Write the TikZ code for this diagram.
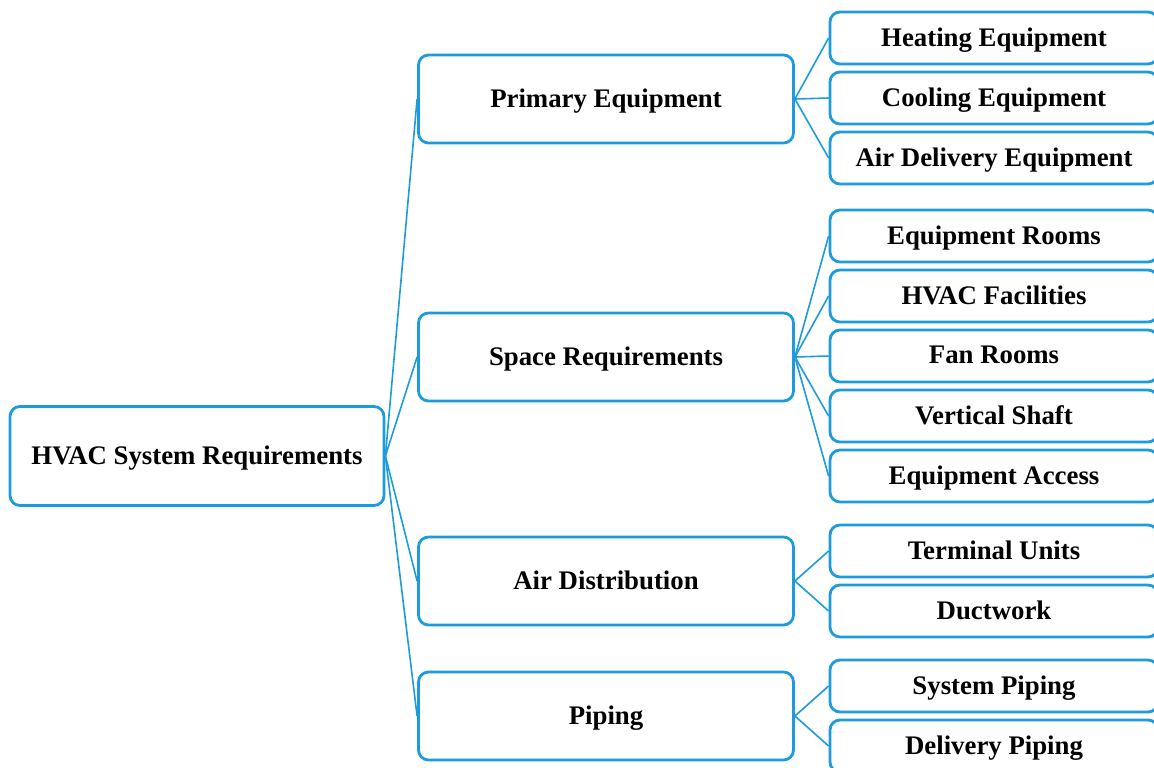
\documentclass[tikz,border=0pt]{standalone}
\usepackage{fontspec}
\setmainfont{Liberation Serif}
\usetikzlibrary{positioning}
\definecolor{hvacblue}{RGB}{30,155,220}
\tikzset{
  box/.style={draw=hvacblue, line width=1.4pt, rounded corners=5pt, fill=white, font=\bfseries\fontsize{13.4}{15}\selectfont, align=center, inner sep=0pt, text depth=1pt},
  rootbox/.style={box, minimum width=187pt, minimum height=49.5pt},
  midbox/.style={box, minimum width=187.5pt, minimum height=44pt},
  leafbox/.style={box, minimum width=164pt, minimum height=26pt},
  link/.style={draw=hvacblue, line width=0.8pt}
}
\begin{document}
\begin{tikzpicture}[x=0.5pt,y=-0.5pt]
    \useasboundingbox (0,0) rectangle (1154,767);
    \node[rootbox] (hvac) at (197,456) {HVAC System Requirements};
    \node[midbox] (primary) at (606,99) {Primary Equipment};
    \node[midbox] (space) at (606,357) {Space Requirements};
    \node[midbox] (airdist) at (606,581) {Air Distribution};
    \node[midbox] (piping) at (606,716) {Piping};
    \foreach \name/\y/\txt in {heating/38/Heating Equipment, cooling/98/Cooling Equipment, airdel/158/Air Delivery Equipment,
        eqrooms/236/Equipment Rooms, facilities/296/HVAC Facilities, fanrooms/356/Fan Rooms, shaft/416/Vertical Shaft, access/476/Equipment Access,
        terminal/551/Terminal Units, ductwork/611/Ductwork,
        syspiping/686/System Piping, delpiping/746/Delivery Piping}
        \node[leafbox] (\name) at (994,\y) {\txt};
    \foreach \a/\b in {hvac/primary, hvac/space, hvac/airdist, hvac/piping,
        primary/heating, primary/cooling, primary/airdel,
        space/eqrooms, space/facilities, space/fanrooms, space/shaft, space/access,
        airdist/terminal, airdist/ductwork,
        piping/syspiping, piping/delpiping}
        \draw[link] (\a.east) -- (\b.west);
\end{tikzpicture}
\end{document}
